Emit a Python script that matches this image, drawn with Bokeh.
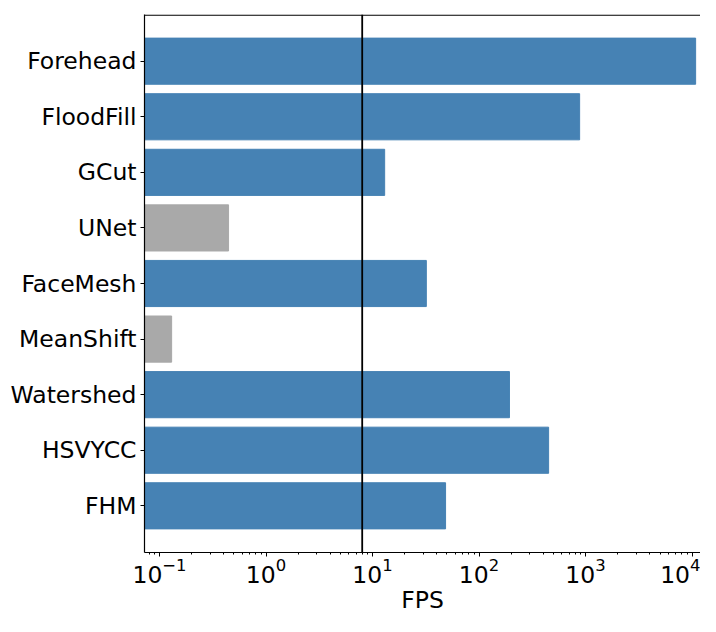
from bokeh.plotting import figure
from bokeh.models import FactorRange, Span, Range1d, LogTicker
from bokeh.embed import file_html
from bokeh.resources import INLINE

methods = ["Forehead", "FloodFill", "GCut", "UNet", "FaceMesh", "MeanShift", "Watershed", "HSVYCC", "FHM"]
fps = [10800, 880, 13.0, 0.445, 32.0, 0.13, 193, 450, 48.5]
colors = ["steelblue", "steelblue", "steelblue", "darkgray", "steelblue", "darkgray", "steelblue", "steelblue", "steelblue"]
threshold = 8.0
x_start, x_end = 0.0723, 12000

FONT = "DejaVu Sans"
FS = "23.5px"
PAD = 0.34

y_range = FactorRange(factors=list(reversed(methods)), range_padding=PAD, range_padding_units="absolute")

p = figure(width=700, height=616, y_range=y_range, x_axis_type="log",
           x_range=Range1d(x_start, x_end),
           output_backend="svg", toolbar_location=None,
           min_border_left=144, min_border_right=0, min_border_top=14, min_border_bottom=0)

p.hbar(y=methods, right=fps, left=x_start * 0.5, height=0.83, color=colors)

p.add_layout(Span(location=threshold, dimension="height", line_color="black", line_width=1.8))
# top spine
p.add_layout(Span(location=len(methods) + PAD - 0.01, dimension="width", line_color="black", line_width=1.3))

p.outline_line_color = None
p.xgrid.grid_line_color = None
p.ygrid.grid_line_color = None
p.background_fill_color = "white"
p.border_fill_color = "white"

p.xaxis.ticker = LogTicker(num_minor_ticks=10)
p.xaxis.axis_label = "FPS"
p.xaxis.axis_label_text_font = FONT
p.xaxis.axis_label_text_font_size = FS
p.xaxis.axis_label_text_font_style = "normal"
p.xaxis.axis_label_text_color = "black"
p.xaxis.axis_label_standoff = 0
for ax in (p.xaxis, p.yaxis):
    ax.major_label_text_font = FONT
    ax.major_label_text_font_size = FS
    ax.major_label_text_color = "black"
    ax.axis_line_color = "black"
    ax.axis_line_width = 1.2
    ax.major_tick_line_color = "black"
    ax.major_tick_in = 0
    ax.major_tick_out = 4
    ax.minor_tick_line_color = "black"
    ax.minor_tick_in = 0
    ax.minor_tick_out = 2
p.xaxis.major_label_standoff = 1
p.yaxis.major_label_standoff = 4
p.yaxis.minor_tick_line_color = None

open("out.html", "w").write(file_html(p, INLINE))
